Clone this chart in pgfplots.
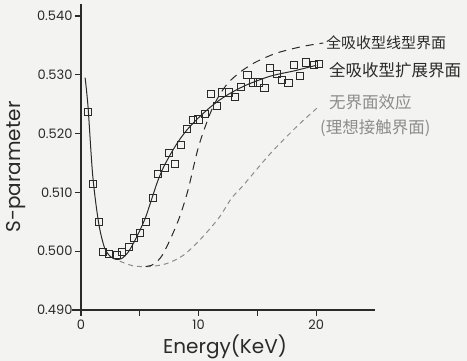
\documentclass[border=0pt]{standalone}
\usepackage{pgfplots}
\pgfplotsset{compat=1.18}
\usepackage{fontspec}
\setmainfont{Poppins}
\newfontfamily\cjk{Noto Sans CJK SC}
\definecolor{paper}{HTML}{F3F3F1}
\definecolor{ink}{HTML}{2A2A2A}
\definecolor{pencil}{HTML}{8C8C8C}
\begin{document}
\begin{tikzpicture}
\fill[paper] (0,0) rectangle (467pt,361pt);
\useasboundingbox (0,0) rectangle (467pt,361pt);
\begin{axis}[
  at={(81pt,51pt)}, anchor=south west,
  scale only axis, width=294pt, height=305.8pt,
  xmin=0, xmax=25, ymin=0.490, ymax=0.542,
  axis lines*=left,
  axis line style={ink, line width=1.1pt},
  tick style={ink, line width=1.1pt},
  tick align=outside, major tick length=6pt,
  xtick={0,5,10,15,20}, xticklabels={0,,10,,20},
  ytick={0.490,0.500,0.510,0.520,0.530,0.540},
  yticklabel style={/pgf/number format/fixed, /pgf/number format/fixed zerofill, /pgf/number format/precision=3, font=\fontsize{13}{13}\selectfont, text=ink, xshift=1pt},
  xticklabel style={font=\fontsize{13}{13}\selectfont, text=ink},
  /pgf/number format/assume math mode=true,
  clip=false,
]
\draw[ink, line width=1.1pt] (axis cs:-0.8,0.490) -- (axis cs:0,0.490);
% no interface effect (gray dashed)
\addplot[pencil, line width=1pt, dash pattern=on 5pt off 4pt, smooth] coordinates {
(3.3,0.4983) (4.45,0.4975) (5.9,0.4974) (7.3,0.4979) (8.7,0.4993) (10.1,0.5019)
(11.7,0.5056) (12.8,0.5090) (13.8,0.5112) (16.1,0.5166) (18.35,0.5212) (20.05,0.5243)
};
% linear interface (black dashed)
\addplot[ink, line width=1pt, dash pattern=on 8pt off 6pt, smooth] coordinates {
(5.5,0.4974) (6.0,0.4976) (6.5,0.4983) (7.0,0.4996) (7.7,0.5025) (8.4,0.5059)
(9.1,0.5104) (10.0,0.5178) (11.0,0.5235) (11.7,0.5263) (12.5,0.5286) (13.5,0.5304)
(14.3,0.5315) (15.1,0.5324) (16.65,0.5337) (18.8,0.5348) (20.6,0.5354)
};
% extended interface fit (solid)
\addplot[ink, line width=1pt, smooth] coordinates {
(0.35,0.5295) (0.6,0.5245) (1.0,0.5128) (1.5,0.5048) (2.0,0.5006) (2.5,0.4991)
(3.0,0.4986) (3.5,0.4988) (4.0,0.4998) (4.5,0.5015) (5.0,0.5035) (5.5,0.5058)
(6.0,0.5088) (6.5,0.5118) (7.0,0.5142) (7.5,0.5161) (8.0,0.5178) (8.5,0.5193)
(9.0,0.5206) (9.5,0.5217) (10,0.5227) (11,0.5245) (12,0.5260) (13,0.5272)
(14,0.5282) (15,0.5290) (16,0.5297) (17,0.5302) (18,0.5306) (19,0.5311) (20,0.5316)
};
% measured data
\addplot[only marks, mark=square, mark size=3.6pt, mark options={ink, line width=1pt}] coordinates {
(0.62,0.5237) (1.05,0.5114) (1.53,0.5050) (1.90,0.4999) (2.38,0.4995) (3.04,0.4994)
(3.5,0.4999) (4.1,0.5007) (4.5,0.5022) (5.0,0.5031) (5.5,0.5049) (6.1,0.5091)
(6.55,0.5131) (7.1,0.5141) (7.5,0.5167) (8.0,0.5148) (8.5,0.5181) (9.0,0.5208)
(9.5,0.5223) (10.0,0.5224) (10.55,0.5233) (11.06,0.5267) (11.55,0.5247) (11.97,0.5270)
(12.6,0.5270) (13.1,0.5262) (13.6,0.5279) (14.15,0.5299) (14.6,0.5287) (15.1,0.5287)
(15.6,0.5278) (16.1,0.5311) (16.65,0.5301) (17.1,0.5291) (17.65,0.5286) (18.1,0.5317)
(18.6,0.5298) (19.1,0.5321) (19.8,0.5316) (20.25,0.5318)
};
\end{axis}
\node[rotate=90, text=ink, font=\fontsize{20}{20}\selectfont] at (16pt,194pt) {S-parameter};
\node[text=ink, font=\fontsize{20}{20}\selectfont] at (225pt,14pt) {Energy(KeV)};
\node[anchor=west, text=ink, font=\cjk\fontsize{15}{15}\selectfont, inner sep=0pt] at (326pt,318pt) {全吸收型线型界面};
\node[anchor=west, text=ink, font=\cjk\fontsize{16.5}{16.5}\selectfont, inner sep=0pt] at (329pt,291pt) {全吸收型扩展界面};
\node[anchor=west, text=pencil, font=\cjk\fontsize{16.5}{16.5}\selectfont, inner sep=0pt] at (329pt,259pt) {无界面效应};
\node[anchor=west, text=pencil, font=\cjk\fontsize{16.5}{16.5}\selectfont, inner sep=0pt] at (320pt,233pt) {(理想接触界面)};
\end{tikzpicture}
\end{document}
